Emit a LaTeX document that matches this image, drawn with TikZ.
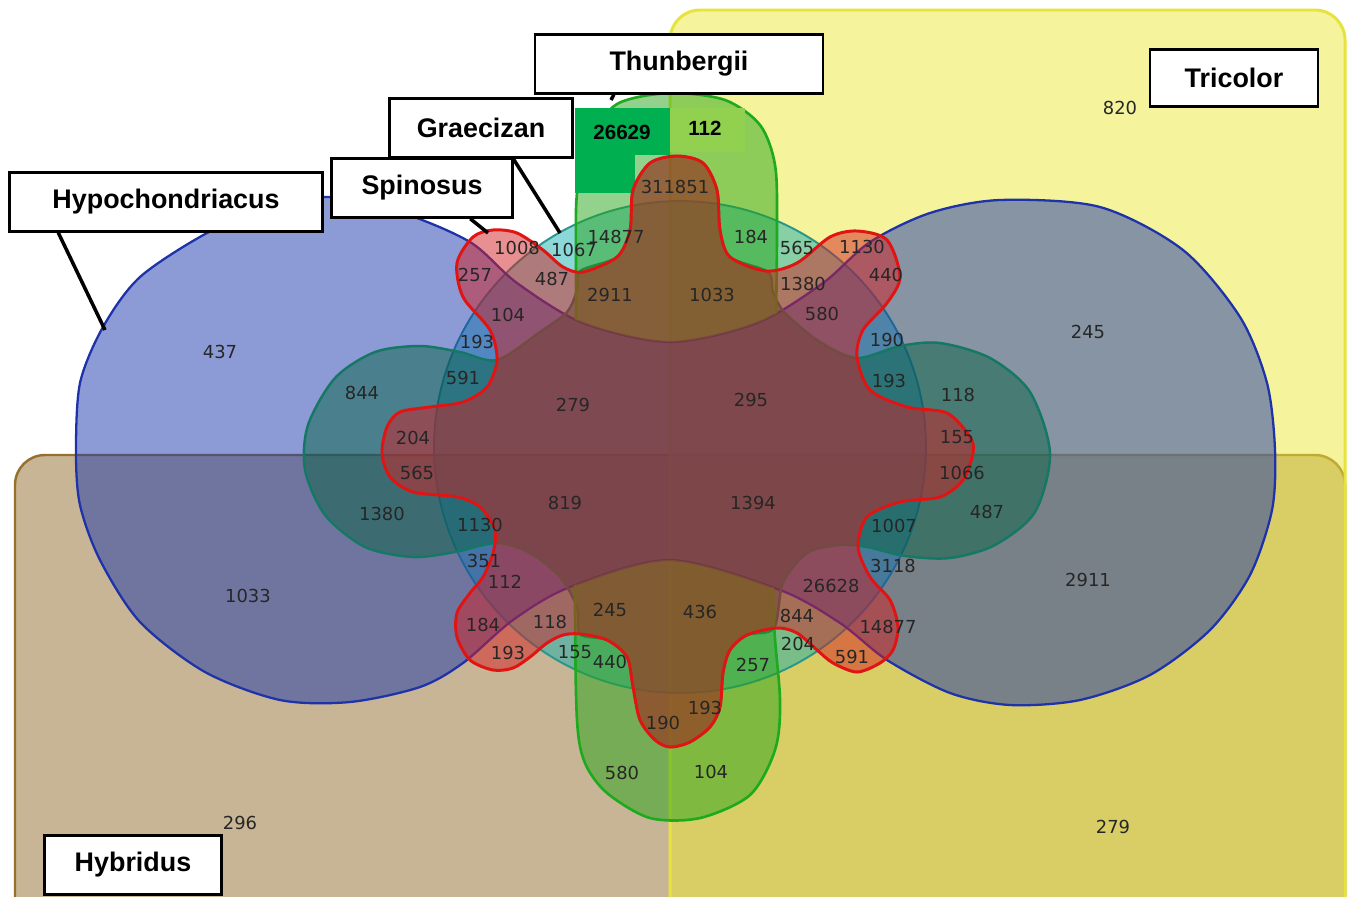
\documentclass[tikz,border=0pt]{standalone}
\usepackage{fontspec}
\setmainfont{DejaVu Sans}
\newfontfamily\setnamefont{Liberation Sans}
\usetikzlibrary{calc}

\definecolor{hybfill}{RGB}{145,107,43}
\definecolor{hybline}{RGB}{150,112,45}
\definecolor{trifill}{RGB}{235,231,55}
\definecolor{triline}{RGB}{230,228,60}
\definecolor{hypofill}{RGB}{25,55,173}
\definecolor{hypoline}{RGB}{30,50,170}
\definecolor{tealfill}{RGB}{10,100,70}
\definecolor{tealline}{RGB}{20,120,100}
\definecolor{graefill}{RGB}{25,175,175}
\definecolor{graeline}{RGB}{40,150,140}
\definecolor{thunfill}{RGB}{40,165,25}
\definecolor{thunline}{RGB}{30,170,30}
\definecolor{spinfill}{RGB}{210,32,35}
\definecolor{spinline}{RGB}{225,20,20}
\definecolor{patchdark}{RGB}{0,176,80}
\definecolor{patchlight}{RGB}{146,208,80}

\begin{document}
\begin{tikzpicture}[x=0.02cm,y=-0.02cm,
  setname/.style={draw=black, line width=1.4pt, fill=white, inner sep=0pt,
    font=\setnamefont\bfseries\fontsize{15.3}{18}\selectfont},
  count/.style={inner sep=0pt, text=black!85, font=\fontsize{10.2}{12}\selectfont},
  patchcount/.style={inner sep=0pt, font=\setnamefont\bfseries\fontsize{11.7}{14}\selectfont},
  leader/.style={line width=2pt, black},
  setarea/.style={fill opacity=0.5}]
\useasboundingbox (0,0) rectangle (1351,896);
\clip (0,0) rectangle (1351,896);

% Hybridus and Tricolor
\draw[setarea, fill=hybfill, draw=hybline, line width=1.4pt, rounded corners=0.6cm]
  (15,455) rectangle (1345,940);
\draw[setarea, fill=trifill, draw=triline, line width=1.7pt, rounded corners=0.6cm]
  (670,10) rectangle (1345,940);

% Graecizan
\draw[setarea, fill=graefill, draw=graeline, line width=1.1pt]
  (680,447) circle[radius=4.92cm];

% Hypochondriacus
\draw[setarea, fill=hypofill, draw=hypoline, line width=1.3pt]
  plot[smooth cycle] coordinates {(76,452) (80,383) (103,327) (140,277) (207,233)
  (270,207) (330,197) (400,212) (470,242) (517,283) (583,323) (670,342) (757,323)
  (823,283) (870,242) (930,213) (1000,200) (1100,207) (1183,250) (1240,317)
  (1267,383) (1275,450) (1272,510) (1250,575) (1210,630) (1150,675) (1080,700)
  (1010,705) (950,693) (887,660) (840,623) (780,590) (670,560) (570,587) (513,620)
  (463,663) (420,687) (350,702) (280,700) (205,672) (140,622) (100,560) (80,505)};

% unnamed dumbbell set
\draw[setarea, fill=tealfill, draw=tealline, line width=1.4pt]
  plot[smooth cycle] coordinates {(857,358) (900,346) (940,343) (990,358)
  (1030,392) (1050,453) (1035,512) (995,545) (950,558) (905,556) (867,547)
  (840,545) (807,553) (783,583) (774,628) (747,635) (730,650) (723,673) (720,707)
  (710,727) (690,742) (670,747) (655,740) (640,720) (633,687) (627,657) (607,640)
  (580,634) (577,607) (560,577) (530,553) (497,543) (455,552) (413,557) (365,547)
  (325,515) (305,470) (308,425) (335,378) (375,352) (420,346) (460,352) (497,360)
  (540,332) (567,312) (577,290) (580,271) (617,257) (630,230) (633,190) (650,163)
  (677,156) (703,163) (717,190) (720,230) (730,257) (768,272) (773,292) (785,313)
  (820,342)};

% Thunbergii (kept out of the band between the two blue edges)
\begin{scope}
\clip (470,0) -- plot[smooth] coordinates {(470,242) (517,283) (583,323) (670,342)
  (757,323) (823,283) (870,242)} -- (870,0) -- cycle
  (463,896) -- plot[smooth] coordinates {(463,663) (513,620) (570,587) (670,560)
  (780,590) (840,623) (887,660)} -- (887,896) -- cycle;
\draw[setarea, fill=thunfill, draw=thunline, line width=1.5pt]
  plot[smooth cycle] coordinates {(577,720) (575,600) (576,400) (576,270)
  (577,193) (590,140) (617,104) (670,93) (725,100) (760,125) (775,165) (777,230)
  (775,400) (773,600) (780,700) (775,750) (750,795) (700,818) (650,818) (607,793)
  (585,763)};
\end{scope}
\fill[patchdark] (575,108) rectangle (670,155);
\fill[patchdark] (575,155) rectangle (635,193);
\fill[patchlight] (670,108) rectangle (745,152);

% Spinosus
\draw[setarea, fill=spinfill, draw=spinline, line width=1.7pt]
  plot[smooth cycle] coordinates {(677,156) (703,163) (717,190) (720,230)
  (730,257) (766,271) (797,263) (830,237) (857,231) (887,240) (900,277) (887,303)
  (863,330) (857,357) (870,390) (907,407) (947,413) (970,437) (973,453) (963,480)
  (940,497) (900,502) (867,517) (858,547) (870,577) (890,600) (898,627) (893,650)
  (880,663) (857,672) (833,663) (817,650) (797,633) (777,628) (747,635) (730,650)
  (723,673) (720,707) (710,727) (690,742) (670,747) (655,740) (640,720) (633,687)
  (627,657) (607,640) (580,634) (563,635) (547,643) (530,657) (513,668) (493,670)
  (470,660) (457,637) (457,613) (470,593) (483,577) (493,553) (495,530) (480,507)
  (457,497) (413,492) (390,477) (382,453) (387,427) (400,412) (430,407) (463,402)
  (487,387) (497,360) (490,330) (463,297) (457,263) (473,237) (493,230) (517,233)
  (543,250) (563,267) (583,272) (617,257) (630,230) (633,190) (650,163)};

% region counts
\foreach \x/\y/\n [count=\i] in {675/187/311851, 517/248/1008, 574/250/1067,
  616/237/14877, 751/237/184, 797/248/565, 862/247/1130, 886/275/440,
  803/284/1380, 822/314/580, 887/340/190, 889/381/193, 958/395/118, 957/437/155,
  962/473/1066, 987/512/487, 894/526/1007, 893/566/3118, 831/586/26628,
  797/616/844, 888/627/14877, 798/644/204, 852/657/591, 753/665/257, 705/708/193,
  663/723/190, 622/773/580, 711/772/104, 700/612/436, 610/610/245, 610/662/440,
  575/652/155, 508/653/193, 550/622/118, 483/625/184, 505/582/112, 484/561/351,
  480/525/1130, 382/514/1380, 417/473/565, 413/438/204, 362/393/844, 463/378/591,
  477/342/193, 508/315/104, 475/275/257, 552/279/487, 610/295/2911, 712/295/1033,
  573/405/279, 751/400/295, 565/503/819, 753/503/1394, 220/352/437, 1088/332/245,
  1120/108/820, 248/596/1033, 1088/580/2911, 240/823/296, 1113/827/279}
  \node[count] (n\i) at (\x,\y) {\n};
\node[patchcount] (p26629) at (622,132) {26629};
\node[patchcount] (p112) at (705,128) {112};

% set names
\node[setname, minimum width=6.26cm, minimum height=1.18cm] (hypo) at (166,202) {Hypochondriacus};
\node[setname, minimum width=3.66cm, minimum height=1.18cm] (grae) at (481,128) {Graecizan};
\node[setname, minimum width=3.62cm, minimum height=1.18cm] (spin) at (422,188) {Spinosus};
\node[setname, minimum width=5.76cm, minimum height=1.18cm] (thun) at (679,64) {Thunbergii};
\node[setname, minimum width=3.36cm, minimum height=1.14cm] (tri) at (1234,78) {Tricolor};
\node[setname, minimum width=3.54cm, minimum height=1.18cm] (hyb) at (133,865) {Hybridus};

\coordinate (hypo-tip) at (105,330);
\coordinate (spin-tip) at (488,233);
\coordinate (grae-tip) at (560,233);
\coordinate (thun-tip) at (611,100);
\draw[leader] ($(hypo.south west)+(50,0)$) -- (hypo-tip);
\draw[leader] ($(spin.south west)+(140,0)$) -- (spin-tip);
\draw[leader] ($(grae.south west)+(125,0)$) -- (grae-tip);
\draw[leader] ($(thun.south west)+(80,0)$) -- (thun-tip);
\end{tikzpicture}
\end{document}
